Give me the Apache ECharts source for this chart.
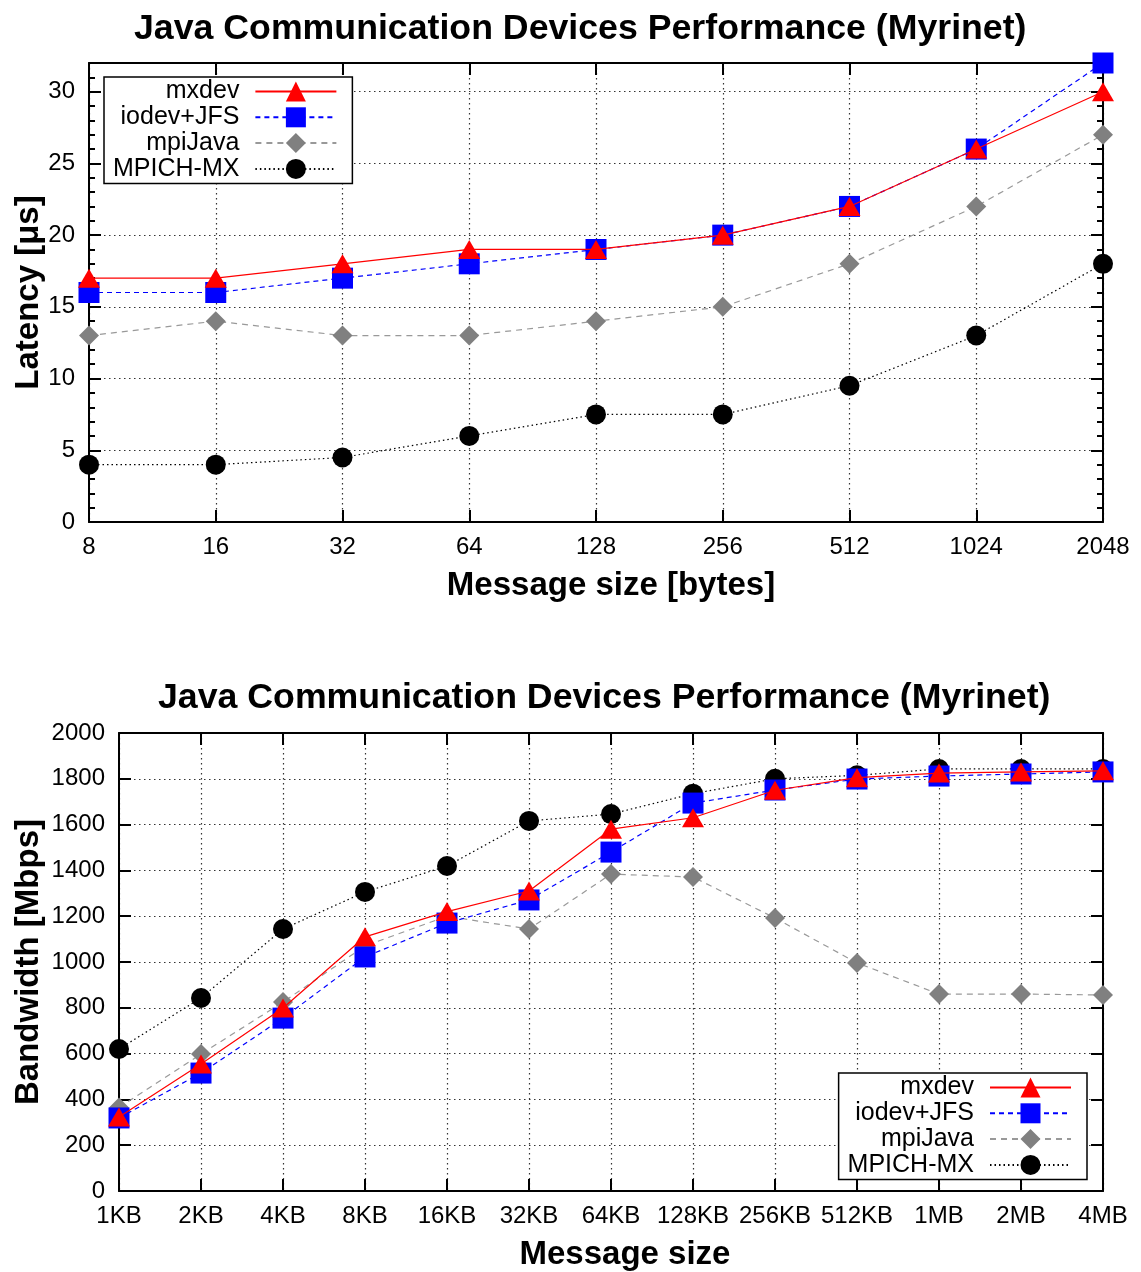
<!DOCTYPE html>
<html>
<head>
<meta charset="utf-8">
<script src="https://cdn.jsdelivr.net/npm/echarts@6/dist/echarts.min.js"></script>
<style>
  html, body { margin: 0; padding: 0; background: #fff; }
  #main { width: 1141px; height: 1272px; }
</style>
</head>
<body>
<div id="main"></div>
<script>
// latency chart (top)
const latSizes = ['8', '16', '32', '64', '128', '256', '512', '1024', '2048'];
const latMxdev = [17, 17, 18, 19, 19, 20, 22, 26, 30];
const latIodev = [16, 16, 17, 18, 19, 20, 22, 26, 32];
const latMpiJava = [13, 14, 13, 13, 14, 15, 18, 22, 27];
const latMpich = [4, 4, 4.5, 6, 7.5, 7.5, 9.5, 13, 18];

// bandwidth chart (bottom)
const bwSizes = ['1KB', '2KB', '4KB', '8KB', '16KB', '32KB', '64KB', '128KB', '256KB', '512KB', '1MB', '2MB', '4MB'];
const bwMxdev = [323, 555, 799, 1110, 1220, 1310, 1580, 1630, 1750, 1805, 1825, 1830, 1835];
const bwIodev = [319, 515, 755, 1022, 1170, 1271, 1480, 1694, 1751, 1799, 1812, 1821, 1830];
const bwMpiJava = [365, 598, 825, 1070, 1200, 1144, 1384, 1371, 1192, 996, 860, 860, 856];
const bwMpich = [620, 843, 1144, 1306, 1419, 1616, 1646, 1735, 1800, 1815, 1843, 1843, 1843];

const legendNames = ['mxdev', 'iodev+JFS', 'mpiJava', 'MPICH-MX'];

const font = '"Liberation Sans", Arial, sans-serif';
const gridLine = { color: '#333', type: [1.5, 3.5], width: 1.2 };

const looks = {
  'mxdev': { line: '#ff0000', fill: '#ff0000', symbol: 'triangle', size: [22, 19], dash: 'solid', z: 6 },
  'iodev+JFS': { line: '#0000ff', fill: '#0000ff', symbol: 'rect', size: 21, dash: [5, 4], z: 5 },
  'mpiJava': { line: '#999999', fill: '#808080', symbol: 'diamond', size: 20, dash: [6, 5], z: 4 },
  'MPICH-MX': { line: '#000000', fill: '#000000', symbol: 'circle', size: 20, dash: [1.5, 3], z: 3 },
};

function serie(name, data, xi, yi) {
  const lk = looks[name];
  return {
    type: 'line', name: name, data: data,
    xAxisIndex: xi, yAxisIndex: yi,
    symbol: lk.symbol, symbolSize: lk.size,
    showSymbol: true, showAllSymbol: true, clip: false,
    z: lk.z,
    lineStyle: { color: lk.line, width: 1.2, type: lk.dash },
    itemStyle: { color: lk.fill },
    emphasis: { disabled: true },
  };
}

function catAxis(grid, data, pos, name, shift) {
  const main = pos === 'bottom';
  return {
    type: 'category', gridIndex: grid, data: data, position: pos, boundaryGap: false,
    axisLine: { onZero: false, lineStyle: { color: '#000', width: 2 } },
    axisTick: { show: true, inside: true, interval: 0, length: 12, lineStyle: { color: '#000', width: 2 } },
    axisLabel: { show: main, interval: 0, color: '#000', fontSize: 24, fontFamily: font, margin: 13 },
    splitLine: { show: main, interval: 0, lineStyle: gridLine },
    name: main ? name : '', nameLocation: 'middle', nameGap: 47, nameMoveOverlap: false,
    nameTextStyle: { color: '#000', fontSize: 33, fontWeight: 'bold', fontFamily: font, padding: [0, 0, 0, shift || 0] },
  };
}

function valAxis(grid, pos, max, interval, tickLen, opts) {
  opts = opts || {};
  return {
    type: 'value', gridIndex: grid, position: pos, min: 0, max: max, interval: interval,
    axisLine: { show: !opts.minor, onZero: false, lineStyle: { color: '#000', width: 2 } },
    axisTick: { show: true, inside: true, length: tickLen, lineStyle: { color: '#000', width: 2 } },
    axisLabel: { show: !!opts.name, showMaxLabel: max % interval === 0, color: '#000', fontSize: 24,
      fontFamily: font, margin: 14, formatter: function (v) { return String(v); } },
    splitLine: { show: !!opts.name, lineStyle: gridLine },
    name: opts.name || '', nameLocation: 'middle', nameGap: opts.gap || 50, nameMoveOverlap: false,
    nameTextStyle: { color: '#000', fontSize: 33, fontWeight: 'bold', fontFamily: font },
  };
}

function legendAt(pos) {
  return Object.assign({
    orient: 'vertical', align: 'right', selectedMode: false, z: 10,
    itemWidth: 81, itemHeight: 25, itemGap: 0.8,
    padding: [2, 15, 2, 9],
    borderColor: '#000', borderWidth: 1.5, backgroundColor: '#fff',
    textStyle: { color: '#000', fontSize: 25, fontFamily: font, padding: [0, 11, 0, 0] },
    data: legendNames,
  }, pos);
}

const chart = echarts.init(document.getElementById('main'), null, { renderer: 'canvas' });

chart.setOption({
  animation: false,
  backgroundColor: '#fff',
  title: [
    { text: 'Java Communication Devices Performance (Myrinet)', left: 129, top: 6,
      textStyle: { color: '#000', fontSize: 35.7, fontWeight: 'bold', fontFamily: font } },
    { text: 'Java Communication Devices Performance (Myrinet)', left: 153, top: 675,
      textStyle: { color: '#000', fontSize: 35.7, fontWeight: 'bold', fontFamily: font } },
  ],
  legend: [
    legendAt({ left: 104, top: 77 }),
    legendAt({ right: 54, top: 1073 }),
  ],
  grid: [
    { left: 89, top: 63, width: 1014, height: 459, outerBoundsMode: 'none', containLabel: false },
    { left: 119, top: 733, width: 984, height: 458, outerBoundsMode: 'none', containLabel: false },
  ],
  xAxis: [
    catAxis(0, latSizes, 'bottom', 'Message size [bytes]', 30),
    catAxis(0, latSizes, 'top'),
    catAxis(1, bwSizes, 'bottom', 'Message size', 28),
    catAxis(1, bwSizes, 'top'),
  ],
  yAxis: [
    valAxis(0, 'left', 32, 5, 12, { name: 'Latency [\u03bcs]', gap: 44 }),
    valAxis(0, 'right', 32, 5, 12),
    valAxis(0, 'left', 32, 1, 6, { minor: true }),
    valAxis(0, 'right', 32, 1, 6, { minor: true }),
    valAxis(1, 'left', 2000, 200, 12, { name: 'Bandwidth [Mbps]', gap: 74 }),
    valAxis(1, 'right', 2000, 200, 12),
  ],
  series: [
    serie('mxdev', latMxdev, 0, 0),
    serie('iodev+JFS', latIodev, 0, 0),
    serie('mpiJava', latMpiJava, 0, 0),
    serie('MPICH-MX', latMpich, 0, 0),
    serie('mxdev', bwMxdev, 2, 4),
    serie('iodev+JFS', bwIodev, 2, 4),
    serie('mpiJava', bwMpiJava, 2, 4),
    serie('MPICH-MX', bwMpich, 2, 4),
  ],
});
</script>
</body>
</html>
